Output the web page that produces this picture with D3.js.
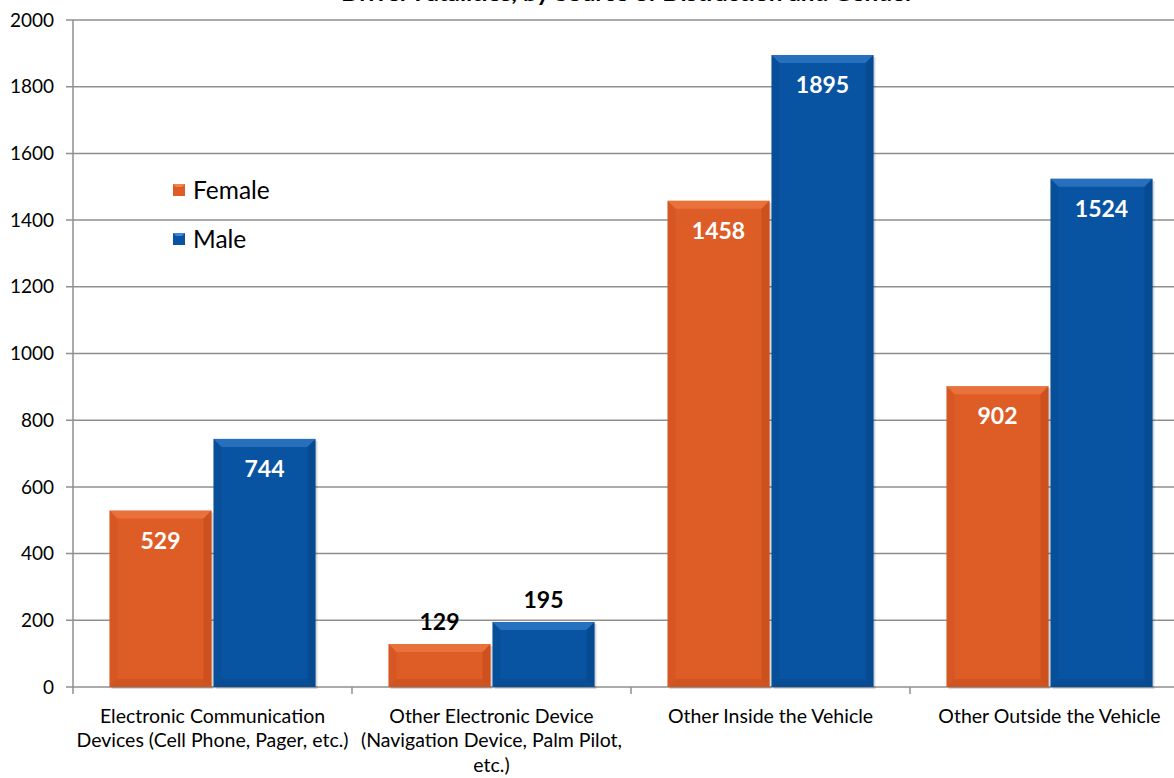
<!DOCTYPE html>
<html><head><meta charset="utf-8">
<script src="https://cdn.jsdelivr.net/npm/d3@7/dist/d3.min.js"></script>
<style>body{margin:0;background:#fff}svg{display:block;font-family:Lato,"Open Sans",sans-serif}</style>
</head><body>
<svg id="c" width="1174" height="778"></svg>
<script>
const title = "Driver Fatalities, by Source of Distraction and Gender";
const categories = [
  "Electronic Communication\nDevices (Cell Phone, Pager, etc.)",
  "Other Electronic Device\n(Navigation Device, Palm Pilot,\netc.)",
  "Other Inside the Vehicle",
  "Other Outside the Vehicle"
];
const seriesNames = ["Female", "Male"];
const female = [529, 129, 1458, 902];
const male = [744, 195, 1895, 1524];
const yTicks = [0, 200, 400, 600, 800, 1000, 1200, 1400, 1600, 1800, 2000];
const seriesColors = ["#DE5C26", "#0954A2"];
const seriesLight = ["#F0844F", "#3F86D6"];
const seriesDark = ["#B84518", "#053E7C"];

const svg = d3.select("#c");
const W = 1174, H = 778;
const x = d3.scaleBand().domain(categories).range([73, 1189]).padding(0);
const xs = d3.scaleBand().domain(seriesNames).range([0, x.bandwidth()])
  .paddingInner(2 / 104).paddingOuter(0.351);
const y = d3.scaleLinear().domain([0, 2000]).range([687, 20]);
const gridColor = "#8f8f8f";

// title (clipped at top in reference)
svg.append("text").attr("x", 341).attr("y", 1).attr("font-weight", "bold")
  .attr("font-size", 20).attr("textLength", 573).attr("lengthAdjust", "spacingAndGlyphs")
  .attr("fill", "#000").text(title);

// gridlines
const g = svg.append("g");
g.selectAll("line.grid").data(yTicks).join("line").attr("class", "grid")
  .attr("x1", 66).attr("x2", W).attr("y1", d => y(d)).attr("y2", d => y(d))
  .attr("stroke", gridColor).attr("stroke-width", 1.5);
g.append("line").attr("x1", 73).attr("x2", 73).attr("y1", y(2000)).attr("y2", y(0))
  .attr("stroke", gridColor).attr("stroke-width", 1.5);
g.selectAll("line.xt").data(categories).join("line").attr("class", "xt")
  .attr("x1", d => x(d)).attr("x2", d => x(d)).attr("y1", y(0)).attr("y2", y(0) + 7)
  .attr("stroke", gridColor).attr("stroke-width", 1.5);
g.selectAll("text.yl").data(yTicks).join("text").attr("class", "yl")
  .attr("x", 54).attr("y", d => y(d)).attr("dy", "0.35em").attr("text-anchor", "end")
  .attr("font-size", 19).attr("fill", "#000").text(d => d);

// bars
const rows = [];
categories.forEach((c, i) => {
  rows.push({ c, s: 0, v: female[i] });
  rows.push({ c, s: 1, v: male[i] });
});
const bevel = 8;
const bars = svg.append("g").selectAll("g.bar").data(rows).join("g").attr("class", "bar");
bars.each(function (d) {
  const gg = d3.select(this);
  const x0 = x(d.c) + xs(seriesNames[d.s]);
  const w = xs.bandwidth();
  const y0 = y(d.v), y1 = y(0);
  const h = y1 - y0;
  const b = Math.min(bevel, h / 2);
  gg.append("rect").attr("x", x0 + 2).attr("y", y0 + 2).attr("width", w).attr("height", h)
    .attr("fill", "#000").attr("opacity", 0.15);
  gg.append("rect").attr("x", x0).attr("y", y0).attr("width", w).attr("height", h)
    .attr("fill", seriesColors[d.s]);
  const pts = {
    top: [[x0, y0], [x0 + w, y0], [x0 + w - b, y0 + b], [x0 + b, y0 + b]],
    bottom: [[x0, y1], [x0 + w, y1], [x0 + w - b, y1 - b], [x0 + b, y1 - b]],
    left: [[x0, y0], [x0 + b, y0 + b], [x0 + b, y1 - b], [x0, y1]],
    right: [[x0 + w, y0], [x0 + w - b, y0 + b], [x0 + w - b, y1 - b], [x0 + w, y1]]
  };
  gg.append("polygon").attr("points", pts.top.join(" ")).attr("fill", seriesLight[d.s]).attr("opacity", 0.55);
  gg.append("polygon").attr("points", pts.left.join(" ")).attr("fill", seriesDark[d.s]).attr("opacity", 0.2);
  gg.append("polygon").attr("points", pts.right.join(" ")).attr("fill", seriesDark[d.s]).attr("opacity", 0.45);
  gg.append("polygon").attr("points", pts.bottom.join(" ")).attr("fill", seriesDark[d.s]).attr("opacity", 0.35);
  const inside = d.v > 300;
  gg.append("text").attr("x", x0 + w / 2)
    .attr("y", inside ? y0 + 30 : y0 - 22).attr("dy", "0.35em")
    .attr("text-anchor", "middle").attr("font-weight", "bold").attr("font-size", 23)
    .attr("fill", inside ? "#fff" : "#000").text(d.v);
});

// x labels
svg.append("g").selectAll("text.xl").data(categories).join("text").attr("class", "xl")
  .attr("x", d => x(d) + x.bandwidth() / 2).attr("y", 716)
  .attr("text-anchor", "middle").attr("font-size", 19.5).attr("fill", "#000")
  .each(function (d) {
    d3.select(this).selectAll("tspan").data(d.split("\n")).join("tspan")
      .attr("x", x(d) + x.bandwidth() / 2).attr("dy", (t, i) => i === 0 ? "0.35em" : 24.5).text(t => t);
  });

// legend
const leg = svg.append("g").selectAll("g").data(seriesNames).join("g")
  .attr("transform", (d, i) => `translate(173,${190 + i * 49})`);
leg.append("rect").attr("x", 0).attr("y", -6).attr("width", 12).attr("height", 12)
  .attr("fill", (d, i) => seriesColors[i]);
leg.append("polygon").attr("points", "0,-6 12,-6 9,-3 3,-3").attr("fill", (d, i) => seriesLight[i]);
leg.append("text").attr("x", 20).attr("y", 0).attr("dy", "0.35em").attr("font-size", 24.5)
  .attr("fill", "#000").text(d => d);
</script>
</body></html>
